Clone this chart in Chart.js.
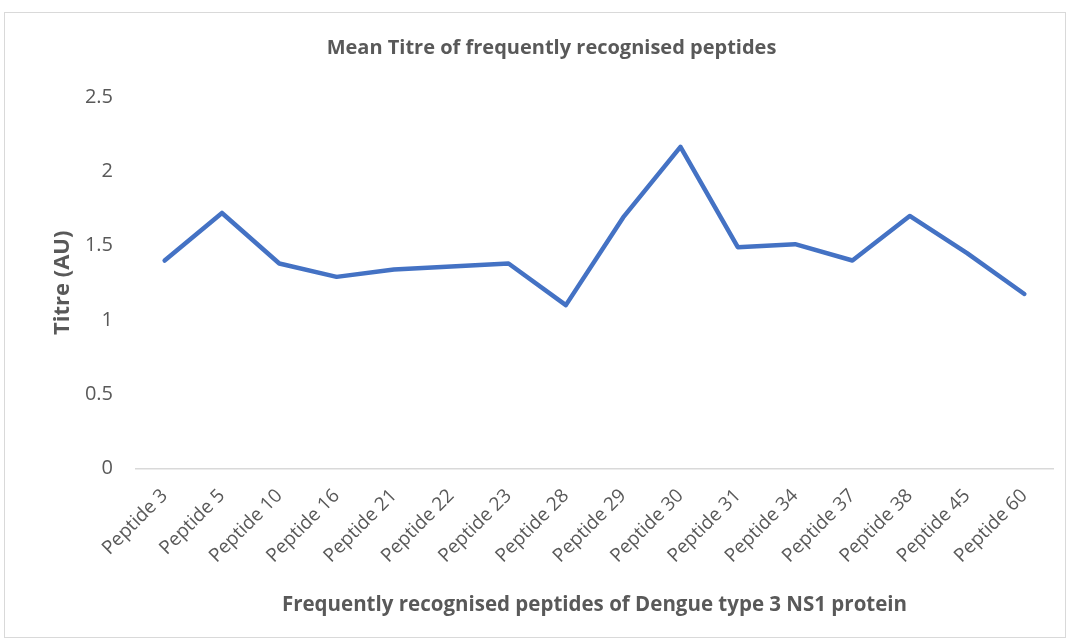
<!DOCTYPE html>
<html><head><meta charset="utf-8">
<script src="https://cdn.jsdelivr.net/npm/chart.js@4/dist/chart.umd.min.js"></script>
<style>
html,body{margin:0;padding:0;background:#fff;}
#frame{position:absolute;left:4px;top:12px;width:1062px;height:626px;border:1px solid #d9d9d9;box-sizing:border-box;}
#wrap{position:absolute;left:0;top:0;width:1066px;height:640px;}
</style></head>
<body>
<div id="frame"></div>
<div id="wrap"><canvas id="c" width="1066" height="640"></canvas></div>
<script>
const categories = ["Peptide 3","Peptide 5","Peptide 10","Peptide 16","Peptide 21","Peptide 22","Peptide 23","Peptide 28","Peptide 29","Peptide 30","Peptide 31","Peptide 34","Peptide 37","Peptide 38","Peptide 45","Peptide 60"];
const meanTitre = [1.40,1.72,1.38,1.29,1.34,1.36,1.38,1.10,1.69,2.165,1.49,1.51,1.40,1.70,1.45,1.175];
const yTicks = [0,0.5,1,1.5,2,2.5];
const chartTitle = "Mean Titre of frequently recognised peptides";
const xTitle = "Frequently recognised peptides of Dengue type 3 NS1 protein";
const yTitle = "Titre (AU)";

const font = "Open Sans";
new Chart(document.getElementById('c'), {
  type: 'line',
  data: { labels: categories, datasets: [{ data: meanTitre, borderColor: '#4472C4', borderWidth: 4.5, pointRadius: 0, borderCapStyle: 'round', borderJoinStyle: 'round', tension: 0, fill: false }] },
  options: {
    responsive: false, animation: false,
    layout: { padding: { left: 50, right: 13, top: 0, bottom: 23 } },
    plugins: {
      legend: { display: false }, tooltip: { enabled: false },
      title: { display: true, text: chartTitle, color: '#595959', font: { family: font, size: 20, weight: 'bold' }, padding: { top: 36, bottom: 37 } }
    },
    scales: {
      x: {
        offset: true,
        afterFit: (s) => { s.paddingLeft = 0; s.paddingRight = 0; },
        grid: { display: false, drawTicks: false },
        border: { display: true, color: '#d9d9d9', width: 1.5 },
        ticks: { color: '#595959', font: { family: font, size: 19 }, maxRotation: 45, minRotation: 45, padding: 16, autoSkip: false },
        title: { display: true, text: xTitle, color: '#595959', font: { family: font, size: 20.5, weight: 'bold' }, padding: { top: 9, bottom: 0 } }
      },
      y: {
        min: 0, max: 2.5,
        afterBuildTicks: (ax) => { ax.ticks = yTicks.map(v => ({ value: v })); },
        afterFit: (s) => { s.width = 86; },
        grid: { display: false, drawTicks: false },
        border: { display: false },
        ticks: { color: '#595959', font: { family: font, size: 20 }, padding: 23, callback: (v) => String(v) },
        title: { display: true, text: yTitle, color: '#595959', font: { family: font, size: 22, weight: 'bold' }, padding: { top: 0, bottom: 10 } }
      }
    }
  }
});
</script>
</body></html>
